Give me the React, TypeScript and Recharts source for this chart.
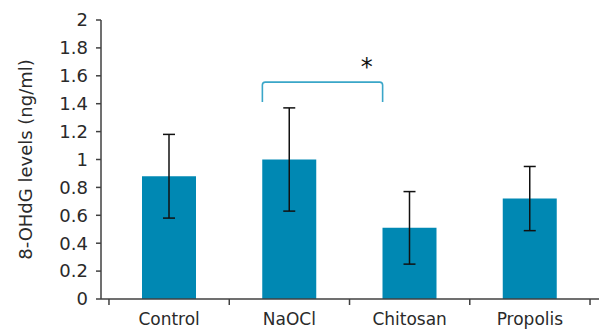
import { BarChart, Bar, XAxis, YAxis, ErrorBar, ReferenceLine, Label } from 'recharts';

const groups = ['Control', 'NaOCl', 'Chitosan', 'Propolis'];
const means = [0.88, 1.0, 0.51, 0.72];
const sds = [0.3, 0.37, 0.26, 0.23];
const yTicks = [0, 0.2, 0.4, 0.6, 0.8, 1, 1.2, 1.4, 1.6, 1.8, 2];

// significance bracket between two groups
const sigFrom = 'NaOCl';
const sigTo = 'Chitosan';
const sigLevel = 1.555;

const BAR_COLOR = '#0088b3';
const BRACKET_COLOR = '#3aa6c8';
const AXIS_COLOR = '#404040';
const TEXT_COLOR = '#2a2a2a';
const FONT = '"DejaVu Sans", sans-serif';
const BAR_SIZE = 54;

const data = groups.map((g, i) => ({ group: g, value: means[i], err: sds[i] }));

const XTick = (props: any) => {
  const { x, y, payload, index } = props;
  const band = 120.3;
  return (
    <g>
      {index === 0 && <line x1={x - band / 2} y1={y - 8} x2={x - band / 2} y2={y - 2} stroke={AXIS_COLOR} strokeWidth={1.5} />}
      <line x1={x + band / 2} y1={y - 8} x2={x + band / 2} y2={y - 2} stroke={AXIS_COLOR} strokeWidth={1.5} />
      <text x={x} y={y + 18} textAnchor="middle" fill={TEXT_COLOR} fontSize={17} fontFamily={FONT}>
        {payload.value}
      </text>
    </g>
  );
};

const Bracket = (props: any) => {
  const { x1, y1, x2 } = props;
  const l = x1 - BAR_SIZE / 2;
  const r = x2 - BAR_SIZE / 2;
  const leg = 20;
  return (
    <g>
      <path
        d={`M${l},${y1 + leg} L${l},${y1 + 3} Q${l},${y1} ${l + 3},${y1} L${r - 3},${y1} Q${r},${y1} ${r},${y1 + 3} L${r},${y1 + leg}`}
        fill="none"
        stroke={BRACKET_COLOR}
        strokeWidth={1.6}
      />
      <text x={r - 16} y={y1 - 7} textAnchor="middle" fill="#111" fontSize={24} fontFamily={FONT}>
        *
      </text>
    </g>
  );
};

export default function App() {
  return (
    <div style={{ position: 'absolute', left: 0, top: 0, background: '#fff' }}>
      <BarChart
        width={599}
        height={331}
        data={data}
        margin={{ top: 20, right: 0, left: 0, bottom: 0 }}
        barSize={BAR_SIZE}
      >
        <XAxis
          dataKey="group"
          height={32}
          padding={{ left: 8, right: 9 }}
          axisLine={{ stroke: AXIS_COLOR, strokeWidth: 1.5 }}
          tickLine={false}
          tick={<XTick />}
          interval={0}
        />
        <YAxis
          width={101}
          domain={[0, 2]}
          ticks={yTicks}
          interval={0}
          axisLine={{ stroke: AXIS_COLOR, strokeWidth: 1.5 }}
          tickLine={{ stroke: AXIS_COLOR, strokeWidth: 1.5 }}
          tickSize={5}
          tickMargin={8}
          tick={{ fill: TEXT_COLOR, fontSize: 18, fontFamily: FONT }}
        >
          <Label
            value="8-OHdG levels (ng/ml)"
            angle={-90}
            position="insideLeft"
            offset={26}
            style={{ textAnchor: 'middle', fill: TEXT_COLOR, fontSize: 18, fontFamily: FONT }}
          />
        </YAxis>
        <Bar dataKey="value" fill={BAR_COLOR} isAnimationActive={false}>
          <ErrorBar dataKey="err" width={6} stroke="#111" strokeWidth={1.5} direction="y" />
        </Bar>
        <ReferenceLine
          segment={[
            { x: sigFrom, y: sigLevel },
            { x: sigTo, y: sigLevel },
          ]}
          shape={Bracket}
        />
      </BarChart>
    </div>
  );
}
